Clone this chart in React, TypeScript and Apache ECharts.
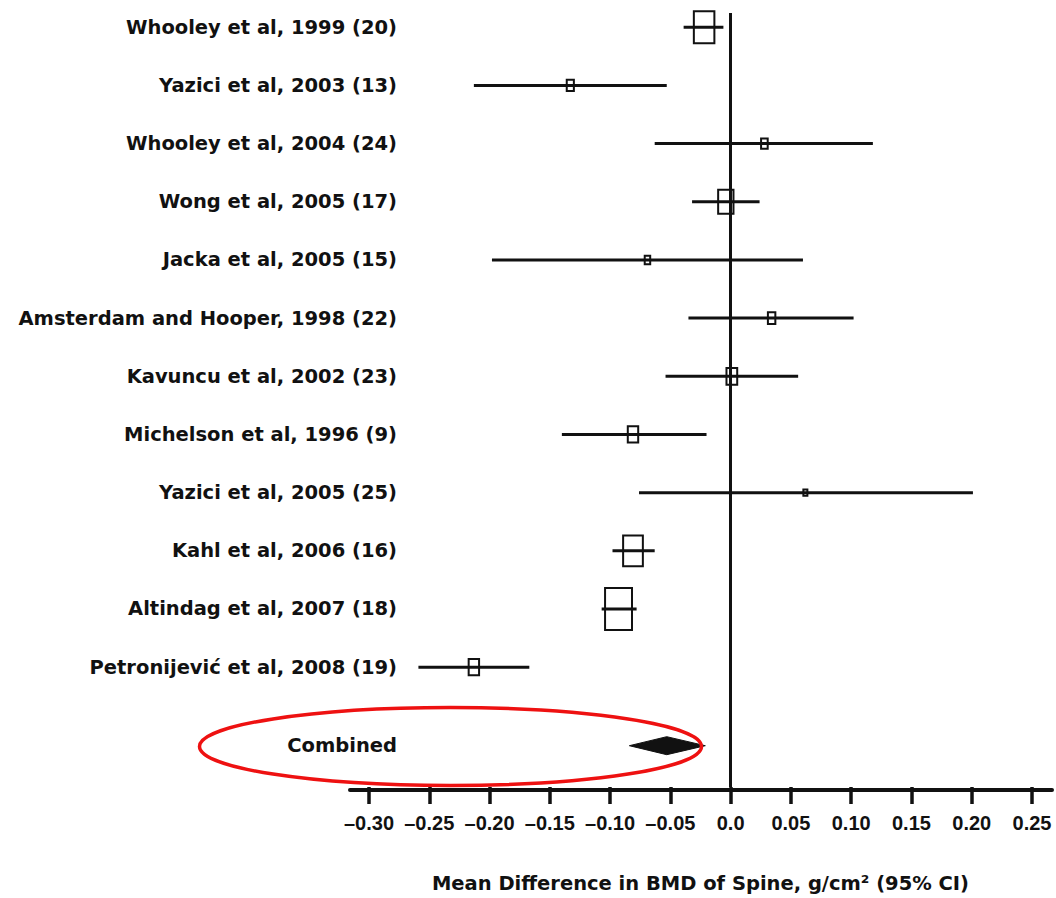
import React, { useEffect, useRef } from "react";
import * as echarts from "echarts";

const studies = [
  "Whooley et al, 1999 (20)",
  "Yazici et al, 2003 (13)",
  "Whooley et al, 2004 (24)",
  "Wong et al, 2005 (17)",
  "Jacka et al, 2005 (15)",
  "Amsterdam and Hooper, 1998 (22)",
  "Kavuncu et al, 2002 (23)",
  "Michelson et al, 1996 (9)",
  "Yazici et al, 2005 (25)",
  "Kahl et al, 2006 (16)",
  "Altindag et al, 2007 (18)",
  "Petronijević et al, 2008 (19)",
];
const estimates = [-0.022, -0.133, 0.028, -0.004, -0.069, 0.034, 0.001, -0.081, 0.062, -0.081, -0.093, -0.213];
const lower = [-0.039, -0.213, -0.063, -0.032, -0.198, -0.035, -0.054, -0.140, -0.076, -0.098, -0.107, -0.259];
const upper = [-0.006, -0.053, 0.118, 0.024, 0.060, 0.102, 0.056, -0.020, 0.201, -0.063, -0.078, -0.167];
const weights = [18.3, 2.2, 1.9, 10.2, 1.3, 2.4, 5.0, 4.7, 0.7, 16.9, 31.5, 4.7];

const combinedLabel = "Combined";
const combinedEst = -0.053;
const combinedLo = -0.084;
const combinedHi = -0.021;

const xMin = -0.3;
const xMax = 0.25;
const xStep = 0.05;
const axisTitle = "Mean Difference in BMD of Spine, g/cm\u00B2 (95% CI)";

// layout constants
const combinedRow = 12.35;
const labelFont = "DejaVu Sans";
const tickFont = "Liberation Sans";
const ink = "#111111";

export default function App() {
  const ref = useRef<HTMLDivElement>(null);
  useEffect(() => {
    if (!ref.current) return;
    const chart = echarts.init(ref.current, null, { renderer: "svg" });
    const rowValues = studies.map((_, i) => i).concat([combinedRow]);
    const rowName = (v: number) => {
      if (Math.abs(v - combinedRow) < 1e-6) return combinedLabel;
      const i = Math.round(v);
      return studies[i] ?? "";
    };
    const option: any = {
      animation: false,
      backgroundColor: "#ffffff",
      grid: [
        { left: 369, right: 24, top: 13, bottom: 108, containLabel: false },
        { left: 350, right: 4, top: 13, bottom: 108, containLabel: false },
      ],
      xAxis: [
        {
          type: "value",
          gridIndex: 0,
          min: xMin,
          max: xMax,
          interval: xStep,
          position: "bottom",
          name: axisTitle,
          nameLocation: "middle",
          nameGap: 86,
          nameTextStyle: { fontFamily: labelFont, fontWeight: "bold", fontSize: 19.5, color: ink },
          axisLine: { show: false, onZero: false },
          axisTick: { show: true, length: 17, lineStyle: { color: ink, width: 3.5 } },
          axisLabel: {
            show: true,
            margin: 26,
            fontFamily: tickFont,
            fontWeight: "bold",
            fontSize: 20,
            color: ink,
            formatter: (v: number) => {
              if (Math.abs(v) < 1e-9) return "0.0";
              return (v < 0 ? "\u2013" : "") + Math.abs(v).toFixed(2);
            },
          },
          splitLine: { show: false },
        },
        {
          type: "value",
          gridIndex: 1,
          min: 0,
          max: 1,
          position: "bottom",
          axisLine: { show: true, onZero: false, lineStyle: { color: ink, width: 4 } },
          axisTick: { show: false },
          axisLabel: { show: false },
          splitLine: { show: false },
        },
      ],
      yAxis: [
        {
          type: "value",
          gridIndex: 0,
          inverse: true,
          min: -0.245,
          max: 13.06,
          offset: -28,
          axisLine: { show: false },
          axisTick: { show: false },
          splitLine: { show: false },
          axisLabel: {
            show: true,
            customValues: rowValues,
            margin: 0,
            fontFamily: labelFont,
            fontWeight: "bold",
            fontSize: 19.5,
            color: ink,
            formatter: (v: number) => rowName(v),
          },
        },
        {
          type: "value",
          gridIndex: 1,
          min: 0,
          max: 1,
          show: false,
        },
      ],
      series: [
        {
          type: "custom",
          name: "studies",
          xAxisIndex: 0,
          yAxisIndex: 0,
          silent: true,
          encode: { x: [1, 2, 3], y: 0 },
          data: studies.map((_, i) => [i, estimates[i], lower[i], upper[i], weights[i]]),
          renderItem: (params: any, api: any) => {
            const y = api.value(0);
            const est = api.value(1);
            const lo = api.value(2);
            const hi = api.value(3);
            const w = api.value(4);
            const pLo = api.coord([lo, y]);
            const pHi = api.coord([hi, y]);
            const pE = api.coord([est, y]);
            const bw = 4.8 * Math.sqrt(w);
            const bh = 7.5 * Math.sqrt(w);
            return {
              type: "group",
              children: [
                {
                  type: "line",
                  shape: { x1: pLo[0], y1: pLo[1], x2: pHi[0], y2: pHi[1] },
                  style: { stroke: ink, lineWidth: 3 },
                },
                {
                  type: "rect",
                  shape: { x: pE[0] - bw / 2, y: pE[1] - bh / 2, width: bw, height: bh },
                  style: { fill: "none", stroke: ink, lineWidth: 2 },
                },
              ],
            };
          },
          markLine: {
            silent: true,
            symbol: "none",
            label: { show: false },
            lineStyle: { color: ink, width: 3, type: "solid" },
            data: [{ xAxis: 0 }],
          },
          z: 3,
        },
        {
          type: "custom",
          name: "combined",
          xAxisIndex: 0,
          yAxisIndex: 0,
          silent: true,
          encode: { x: [1, 2, 3], y: 0 },
          data: [[combinedRow, combinedEst, combinedLo, combinedHi]],
          renderItem: (params: any, api: any) => {
            const y = api.value(0);
            const pE = api.coord([api.value(1), y]);
            const pLo = api.coord([api.value(2), y]);
            const pHi = api.coord([api.value(3), y]);
            const h = 9;
            return {
              type: "polygon",
              shape: {
                points: [
                  [pLo[0], pLo[1]],
                  [pE[0], pE[1] - h],
                  [pHi[0], pHi[1]],
                  [pE[0], pE[1] + h],
                ],
              },
              style: { fill: ink, stroke: ink, lineWidth: 1 },
            };
          },
          z: 3,
        },
      ],
      graphic: [
        {
          type: "ellipse",
          silent: true,
          z: 10,
          shape: { cx: 450.5, cy: 746.5, rx: 251, ry: 39 },
          style: { fill: "none", stroke: "#ee1111", lineWidth: 3.5 },
        },
      ],
    };
    chart.setOption(option);
    return () => chart.dispose();
  }, []);
  return (
    <div
      ref={ref}
      style={{ position: "absolute", left: 0, top: 0, width: 1056, height: 898, background: "#fff" }}
    />
  );
}
